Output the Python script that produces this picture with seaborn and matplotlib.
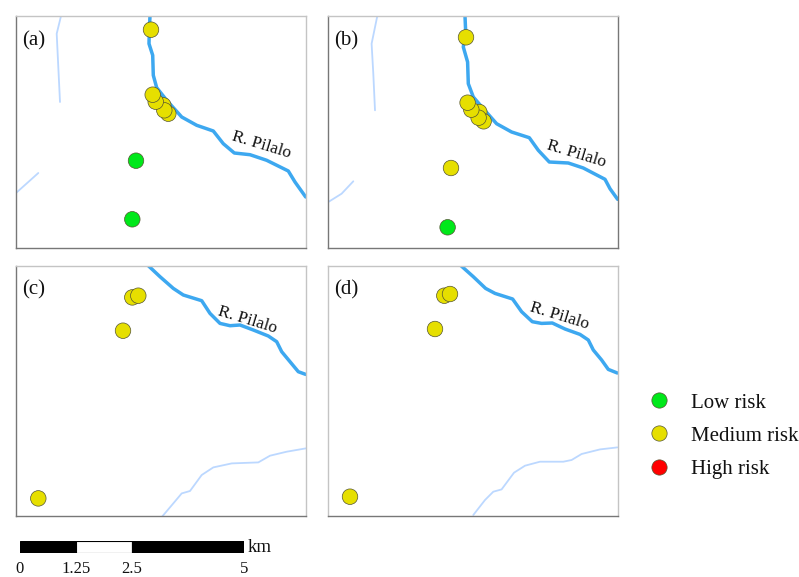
# flood risk maps, four scenarios
import pandas as pd
import matplotlib.pyplot as plt
from matplotlib.lines import Line2D
import seaborn as sns

FIG_W, FIG_H = 799, 577

# river and stream traces (map units, y down)
river_a = [(134, 0), (133.3, 14.3), (133, 27.7), (136.7, 39.3), (137.3, 59.3), (140.7, 71.7), (150.7, 84.3),
           (165.7, 101), (180.7, 109.3), (197.3, 115), (207.3, 127.7), (218.3, 137), (234, 138.7), (250.7, 144.3),
           (272.3, 155), (279, 166), (289.7, 181)]
river_b = [(136.7, 0), (137.3, 14.3), (135, 31), (139.3, 46), (140, 67.7), (145, 81), (155, 92.7), (168.3, 107.7),
           (183.3, 116), (201, 121.7), (210, 134.3), (221, 146), (240, 147), (255, 152), (276.7, 163.3),
           (281.7, 172.7), (289.3, 183.3)]
river_c = [(132.3, 0), (144, 11), (157.3, 22.7), (167.3, 29.3), (185.7, 35), (194, 47.7), (204, 57.7), (214, 60),
           (224, 59.3), (237.3, 64.3), (252.3, 70.3), (260.7, 76), (265.7, 86), (274, 96), (282.3, 106),
           (289.7, 108.7)]
river_d = [(132.7, 0), (145, 11), (157.3, 22.7), (166.7, 27.7), (184.3, 33.3), (193.3, 46), (204, 56), (213.3, 57.7),
           (224, 57.3), (236.7, 63.3), (251.7, 68.7), (260, 74.3), (265, 84.3), (273.3, 94.3), (280, 103.7),
           (289, 107.3)]

streams_a = [[(45, 0), (40.7, 17.7), (42.3, 51), (44, 86)], [(0, 177), (12.3, 166), (22.3, 157)]]
streams_b = [[(49, 0), (43.3, 27.7), (45, 57.7), (46.7, 94.3)], [(0, 186), (13.3, 177.7), (25, 165.3)]]
streams_c = [[(146.3, 250.7), (157.3, 237.7), (165.7, 227.7), (174, 225.3), (185.7, 209.3), (197.3, 201.7),
              (215.7, 197.7), (242.3, 196.7), (254, 190), (270.7, 186), (289.7, 182.7)]]
streams_d = [[(145, 249.3), (156.7, 234.3), (165, 226), (173.3, 223.7), (185.7, 207), (196.7, 200), (211.7, 196),
              (235, 196), (243.3, 194.3), (253.3, 188.3), (271.7, 183.7), (289, 181.7)]]

# sites: x, y, risk class
sites_a = [(135, 13.7, "Medium"), (147.3, 89.3, "Medium"), (152.3, 97.7, "Medium"), (148.3, 94.3, "Medium"),
           (139.7, 85.7, "Medium"), (136.7, 78.7, "Medium"), (120, 144.7, "Low"), (116.3, 203.3, "Low")]
sites_b = [(137.7, 21.3, "Medium"), (151, 96, "Medium"), (155.3, 105.3, "Medium"), (150.3, 101.7, "Medium"),
           (143, 93.7, "Medium"), (139.3, 86.7, "Medium"), (122.7, 152, "Medium"), (119.3, 211.3, "Low")]
sites_c = [(116.3, 31.7, "Medium"), (122.3, 30, "Medium"), (107, 65, "Medium"), (22.3, 232.7, "Medium")]
sites_d = [(116, 30, "Medium"), (121.7, 28.3, "Medium"), (106.7, 63.3, "Medium"), (21.7, 231, "Medium")]

panel_names = ["(a)", "(b)", "(c)", "(d)"]
river_label = "R. Pilalo"
label_pos = [(245.7, 129.3), (248, 138), (231, 54), (231, 50)]
label_rot = [-17, -17, -17, -17]

risk_levels = ["Low", "Medium", "High"]
legend_labels = ["Low risk", "Medium risk", "High risk"]
risk_colors = {"Low": "#00E81A", "Medium": "#E6DF00", "High": "#FF0000"}

# scale bar segments in km
bar_starts = [0, 1.25, 2.5]
bar_widths = [1.25, 1.25, 2.5]
bar_colors = ["black", "white", "black"]
scale_ticks = [0, 1.25, 2.5, 5]
scale_labels = ["0", "1.25", "2.5", "5"]

sns.set_theme(style="white")
plt.rcParams["font.family"] = ["Liberation Serif", "DejaVu Serif"]

RIVER = "#3DA8F0"
STREAM = "#BCD8FF"


def px_axes(fig, left, top, right, bottom):
    return fig.add_axes([left / FIG_W, 1 - bottom / FIG_H, (right - left) / FIG_W, (bottom - top) / FIG_H])


def draw_line(ax, points, color, width):
    line_df = pd.DataFrame(points, columns=["x", "y"])
    sns.lineplot(data=line_df, x="x", y="y", ax=ax, color=color, linewidth=width,
                 estimator=None, sort=False, legend=False, solid_joinstyle="round")


fig = plt.figure(figsize=(FIG_W / 100, FIG_H / 100), dpi=100)

boxes = [(16, 16, 305.7, 248), (328.3, 16, 618.3, 248), (16, 265.7, 305.7, 516.3), (328.3, 265.7, 618.3, 516.3)]
rivers = [river_a, river_b, river_c, river_d]
streams = [streams_a, streams_b, streams_c, streams_d]
sites = [sites_a, sites_b, sites_c, sites_d]
dark_sides = [["left", "bottom"], ["left", "right", "bottom"], ["left", "bottom"], ["bottom"]]

for i, box in enumerate(boxes):
    ax = px_axes(fig, *box)
    for stream in streams[i]:
        draw_line(ax, stream, STREAM, 1.3)
    draw_line(ax, rivers[i], RIVER, 2.5)
    site_df = pd.DataFrame(sites[i], columns=["x", "y", "risk"])
    sns.scatterplot(data=site_df, x="x", y="y", hue="risk", palette=risk_colors, hue_order=risk_levels,
                    s=125, edgecolor="#555533", linewidth=0.5, ax=ax, legend=False, zorder=3)
    ax.set_xlim(0, box[2] - box[0])
    ax.set_ylim(box[3] - box[1], 0)
    ax.set_xticks([])
    ax.set_yticks([])
    ax.set_xlabel("")
    ax.set_ylabel("")
    for side, spine in ax.spines.items():
        spine.set_visible(True)
        spine.set_linewidth(1.0)
        spine.set_color("#777777" if side in dark_sides[i] else "#C4C4C4")
    ax.text(6, 24.5, panel_names[i], fontsize=15, color="#111111", va="center", ha="left")
    ax.text(label_pos[i][0], label_pos[i][1], river_label, fontsize=12.5, color="#111111",
            rotation=label_rot[i], ha="center", va="center", rotation_mode="anchor")

# legend
handles = [Line2D([], [], linestyle="", marker="o", markersize=11, markerfacecolor=risk_colors[r],
                  markeredgecolor="#555533", markeredgewidth=0.5) for r in risk_levels]
fig.legend(handles, legend_labels, loc="center left", bbox_to_anchor=(645 / FIG_W, 1 - 436 / FIG_H),
           frameon=False, fontsize=15, labelspacing=0.65, handletextpad=0.89, handlelength=1.32, borderpad=0,
           borderaxespad=0, labelcolor="#111111")

# scale bar
bar_ax = px_axes(fig, 20, 541, 244, 553)
bar_ax.barh([0] * 3, bar_widths, left=bar_starts, height=1, color=bar_colors, edgecolor="black", linewidth=0.8)
bar_ax.set_xlim(0, 5)
bar_ax.set_ylim(-0.5, 0.5)
bar_ax.set_yticks([])
bar_ax.set_xticks(scale_ticks)
bar_ax.set_xticklabels(scale_labels, fontsize=12, color="#111111")
bar_ax.tick_params(axis="x", length=0, pad=6)
sns.despine(ax=bar_ax, left=True, bottom=True)
bar_ax.text(1.016, 0.5, "km", transform=bar_ax.transAxes, fontsize=13.5, color="#111111", va="center", ha="left")

fig.savefig("out.png", dpi=100)
